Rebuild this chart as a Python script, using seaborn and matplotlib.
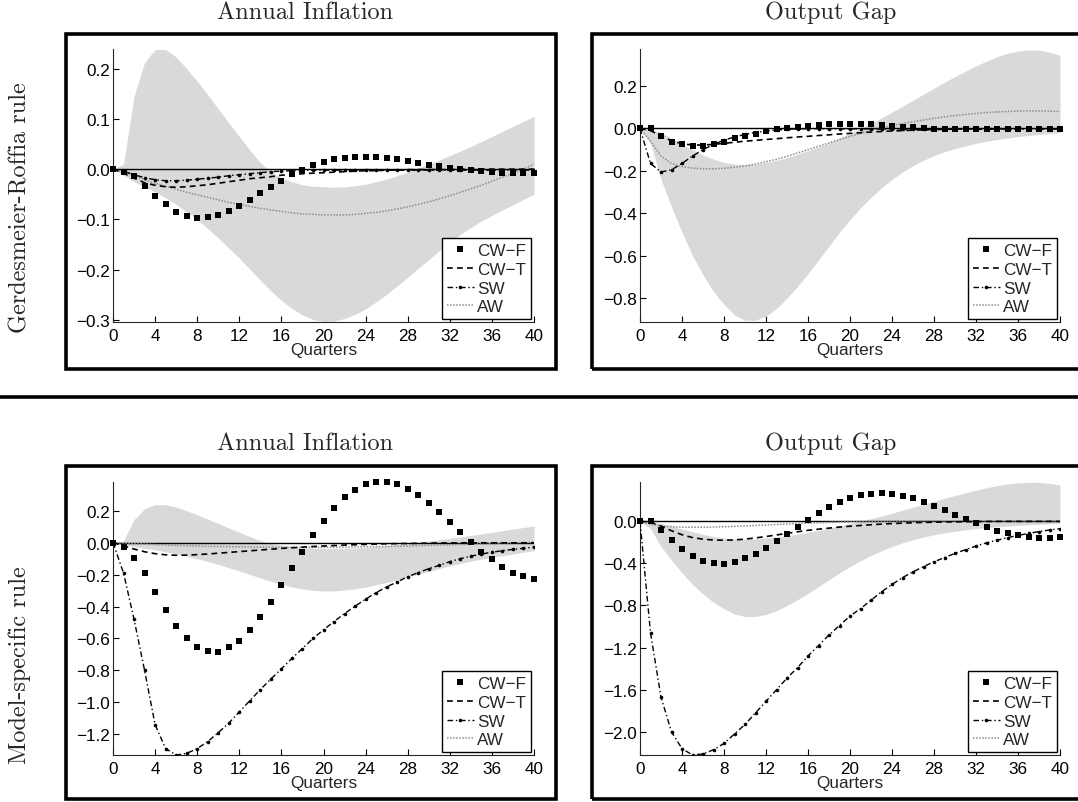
import numpy as np
import matplotlib
matplotlib.use("Agg")
import matplotlib.pyplot as plt
from matplotlib.lines import Line2D
from matplotlib.patches import Rectangle
import seaborn as sns

# ---------------- data ----------------
quarters = list(range(41))

band_infl_hi = [0.0, 0.01, 0.145, 0.212, 0.238, 0.238, 0.223, 0.2, 0.175, 0.148, 0.12, 0.092,
                0.065, 0.038, 0.013, -0.005, -0.017, -0.025, -0.031, -0.034, -0.035, -0.036,
                -0.035, -0.033, -0.03, -0.025, -0.02, -0.013, -0.006, 0.002, 0.01, 0.018, 0.027,
                0.036, 0.045, 0.055, 0.065, 0.075, 0.085, 0.095, 0.105]
band_infl_lo = [0.0, -0.012, -0.025, -0.035, -0.045, -0.057, -0.07, -0.085, -0.1, -0.118, -0.137,
                -0.157, -0.177, -0.199, -0.221, -0.242, -0.261, -0.277, -0.29, -0.299, -0.303,
                -0.302, -0.297, -0.289, -0.278, -0.264, -0.249, -0.232, -0.215, -0.197, -0.18,
                -0.162, -0.145, -0.13, -0.116, -0.103, -0.092, -0.081, -0.071, -0.06, -0.05]
band_gap_hi = [0.0, -0.005, -0.02, -0.045, -0.075, -0.1, -0.125, -0.145, -0.16, -0.168, -0.17,
               -0.168, -0.16, -0.15, -0.137, -0.122, -0.105, -0.087, -0.067, -0.045, -0.022, 0.0,
               0.025, 0.05, 0.077, 0.105, 0.133, 0.162, 0.19, 0.218, 0.245, 0.27, 0.295, 0.318,
               0.338, 0.355, 0.365, 0.37, 0.37, 0.36, 0.345]
band_gap_lo = [0.0, -0.07, -0.24, -0.37, -0.49, -0.6, -0.69, -0.77, -0.83, -0.88, -0.905, -0.905,
               -0.885, -0.85, -0.8, -0.745, -0.685, -0.62, -0.555, -0.49, -0.43, -0.375, -0.325,
               -0.28, -0.24, -0.205, -0.175, -0.15, -0.128, -0.11, -0.095, -0.082, -0.07, -0.06,
               -0.052, -0.045, -0.038, -0.033, -0.028, -0.024, -0.02]

# Gerdesmeier-Roffia rule, annual inflation
gr_infl_cwf = [0.0, -0.005, -0.013, -0.033, -0.053, -0.07, -0.085, -0.093, -0.097, -0.096, -0.091,
               -0.083, -0.073, -0.061, -0.048, -0.035, -0.023, -0.01, -0.001, 0.008, 0.015, 0.021,
               0.023, 0.025, 0.025, 0.024, 0.023, 0.02, 0.017, 0.013, 0.009, 0.006, 0.003, 0.0,
               -0.002, -0.004, -0.005, -0.007, -0.008, -0.008, -0.008]
gr_infl_cwt = [0.0, -0.008, -0.018, -0.027, -0.032, -0.035, -0.036, -0.035, -0.033, -0.031, -0.028,
               -0.025, -0.022, -0.019, -0.017, -0.015, -0.012, -0.011, -0.009, -0.008, -0.007,
               -0.006, -0.005, -0.004, -0.003, -0.003, -0.002, -0.002, -0.001, -0.001, -0.001,
               -0.001, -0.001, 0.0, 0.0, 0.0, 0.0, 0.0, 0.0, 0.0, 0.0]
gr_infl_sw = [0.0, -0.004, -0.011, -0.017, -0.021, -0.023, -0.023, -0.022, -0.02, -0.018, -0.016,
              -0.013, -0.011, -0.009, -0.007, -0.005, -0.004, -0.003, -0.002, -0.002, -0.002,
              -0.002, -0.002, -0.002, -0.002, -0.002, -0.002, -0.002, -0.002, -0.002, -0.002,
              -0.002, -0.002, -0.002, -0.002, -0.002, -0.002, -0.002, -0.002, -0.002, -0.002]
gr_infl_aw = [0.0, -0.006, -0.013, -0.021, -0.028, -0.034, -0.04, -0.046, -0.051, -0.056, -0.061,
              -0.066, -0.07, -0.074, -0.078, -0.081, -0.084, -0.087, -0.089, -0.09, -0.091, -0.091,
              -0.091, -0.09, -0.088, -0.086, -0.083, -0.079, -0.075, -0.07, -0.065, -0.059, -0.053,
              -0.046, -0.039, -0.032, -0.024, -0.016, -0.008, 0.0, 0.01]

# Gerdesmeier-Roffia rule, output gap
gr_gap_cwf = [0.0, 0.0, -0.035, -0.063, -0.074, -0.082, -0.082, -0.074, -0.063, -0.047, -0.035,
              -0.024, -0.011, -0.003, 0.003, 0.008, 0.013, 0.017, 0.02, 0.022, 0.022, 0.022, 0.02,
              0.017, 0.013, 0.009, 0.005, 0.002, -0.001, -0.002, -0.002, -0.002, -0.002, -0.002,
              -0.002, -0.002, -0.002, -0.002, -0.002, -0.002, -0.002]
gr_gap_cwt = [0.0, -0.01, -0.035, -0.058, -0.072, -0.078, -0.078, -0.075, -0.07, -0.065, -0.06,
              -0.056, -0.052, -0.048, -0.044, -0.04, -0.037, -0.033, -0.03, -0.026, -0.023, -0.02,
              -0.017, -0.014, -0.012, -0.01, -0.008, -0.006, -0.005, -0.004, -0.003, -0.002,
              -0.002, -0.001, -0.001, -0.001, 0.0, 0.0, 0.0, 0.0, 0.0]
gr_gap_sw = [0.0, -0.165, -0.205, -0.195, -0.165, -0.13, -0.1, -0.075, -0.055, -0.04, -0.028,
             -0.019, -0.012, -0.007, -0.004, -0.002, -0.001, -0.001, -0.001, -0.002, -0.002,
             -0.002, -0.002, -0.003, -0.003, -0.003, -0.003, -0.003, -0.003, -0.003, -0.003,
             -0.003, -0.003, -0.003, -0.003, -0.003, -0.003, -0.003, -0.003, -0.003, -0.003]
gr_gap_aw = [0.0, -0.06, -0.13, -0.165, -0.18, -0.187, -0.19, -0.19, -0.188, -0.183, -0.177,
             -0.168, -0.157, -0.145, -0.131, -0.116, -0.1, -0.084, -0.068, -0.052, -0.037, -0.023,
             -0.01, 0.002, 0.013, 0.023, 0.032, 0.04, 0.048, 0.055, 0.061, 0.066, 0.071, 0.075,
             0.078, 0.08, 0.082, 0.083, 0.083, 0.082, 0.08]

# Model-specific rule, annual inflation
ms_infl_cwf = [0.0, -0.03, -0.094, -0.19, -0.31, -0.42, -0.52, -0.6, -0.652, -0.681, -0.683,
               -0.656, -0.613, -0.548, -0.465, -0.371, -0.267, -0.16, -0.056, 0.046, 0.138, 0.217,
               0.283, 0.333, 0.369, 0.383, 0.383, 0.369, 0.338, 0.298, 0.248, 0.19, 0.127, 0.065,
               0.004, -0.056, -0.104, -0.15, -0.188, -0.208, -0.225]
ms_infl_cwt = [0.0, -0.02, -0.04, -0.057, -0.069, -0.076, -0.079, -0.078, -0.075, -0.071, -0.066,
               -0.061, -0.056, -0.051, -0.046, -0.041, -0.036, -0.032, -0.028, -0.024, -0.021,
               -0.018, -0.015, -0.013, -0.011, -0.009, -0.007, -0.006, -0.005, -0.004, -0.003,
               -0.002, -0.002, -0.001, -0.001, -0.001, -0.001, -0.001, -0.001, -0.001, -0.001]
ms_infl_sw = [0.0, -0.19, -0.48, -0.8, -1.14, -1.29, -1.33, -1.32, -1.29, -1.246, -1.19, -1.13,
              -1.06, -0.99, -0.92, -0.854, -0.79, -0.725, -0.663, -0.6, -0.546, -0.494, -0.444,
              -0.398, -0.354, -0.313, -0.277, -0.246, -0.213, -0.188, -0.163, -0.142, -0.119,
              -0.1, -0.085, -0.071, -0.06, -0.05, -0.042, -0.035, -0.028]
ms_infl_aw = [0.0, -0.003, -0.006, -0.009, -0.012, -0.015, -0.017, -0.019, -0.021, -0.023, -0.024,
              -0.025, -0.026, -0.027, -0.028, -0.028, -0.029, -0.029, -0.029, -0.029, -0.029,
              -0.028, -0.028, -0.027, -0.026, -0.025, -0.024, -0.022, -0.021, -0.019, -0.017,
              -0.015, -0.013, -0.011, -0.009, -0.007, -0.005, -0.003, -0.001, 0.001, 0.003]

# Model-specific rule, output gap
ms_gap_cwf = [0.0, 0.0, -0.085, -0.18, -0.266, -0.332, -0.376, -0.398, -0.402, -0.383, -0.351,
              -0.307, -0.253, -0.187, -0.12, -0.05, 0.016, 0.082, 0.136, 0.183, 0.221, 0.247,
              0.262, 0.266, 0.259, 0.243, 0.218, 0.187, 0.149, 0.104, 0.063, 0.019, -0.019,
              -0.057, -0.092, -0.114, -0.133, -0.145, -0.155, -0.155, -0.152]
ms_gap_cwt = [0.0, -0.01, -0.045, -0.09, -0.128, -0.155, -0.17, -0.178, -0.18, -0.177, -0.17,
              -0.158, -0.145, -0.13, -0.115, -0.1, -0.086, -0.075, -0.065, -0.055, -0.047,
              -0.04, -0.033, -0.027, -0.022, -0.018, -0.014, -0.011, -0.009, -0.007, -0.005,
              -0.004, -0.003, -0.002, -0.001, -0.001, -0.001, -0.001, -0.001, -0.001, -0.001]
ms_gap_sw = [0.0, -1.06, -1.67, -2.0, -2.16, -2.22, -2.21, -2.17, -2.11, -2.02, -1.93, -1.82,
             -1.71, -1.6, -1.49, -1.39, -1.28, -1.18, -1.08, -0.99, -0.9, -0.83, -0.75, -0.67,
             -0.6, -0.535, -0.48, -0.43, -0.385, -0.345, -0.305, -0.27, -0.235, -0.205, -0.18,
             -0.155, -0.135, -0.115, -0.098, -0.083, -0.07]
ms_gap_aw = [0.0, -0.03, -0.045, -0.052, -0.056, -0.057, -0.057, -0.055, -0.052, -0.048, -0.044,
             -0.04, -0.035, -0.031, -0.026, -0.022, -0.018, -0.014, -0.011, -0.008, -0.005,
             -0.003, -0.001, 0.0, 0.001, 0.001, 0.002, 0.002, 0.003, 0.003, 0.003, 0.003, 0.004,
             0.004, 0.004, 0.004, 0.004, 0.004, 0.004, 0.004, 0.004]

col_titles = ["Annual Inflation", "Output Gap"]
row_titles = ["Gerdesmeier-Roffia rule", "Model-specific rule"]
legend_labels = ["CW\u2212F", "CW\u2212T", "SW", "AW"]
x_ticks = [0, 4, 8, 12, 16, 20, 24, 28, 32, 36, 40]
y_ticks_gr_infl = [-0.3, -0.2, -0.1, 0.0, 0.1, 0.2]
y_ticks_gr_gap = [-0.8, -0.6, -0.4, -0.2, 0.0, 0.2]
y_ticks_ms_infl = [-1.2, -1.0, -0.8, -0.6, -0.4, -0.2, 0.0, 0.2]
y_ticks_ms_gap = [-2.0, -1.6, -1.2, -0.8, -0.4, 0.0]

# ---------------- style ----------------
sns.set_theme(style="ticks")
plt.rcParams["font.family"] = ["Liberation Sans", "DejaVu Sans"]
plt.rcParams["axes.linewidth"] = 0.8

W, H = 1078, 803
fig = plt.figure(figsize=(W / 100, H / 100), dpi=100)

band_color = "#d9d9d9"
aw_color = "#8c8c8c"
tick_fs = 12.3


def px_axes(x0, y0, x1, y1):
    return fig.add_axes([x0 / W, 1 - y1 / H, (x1 - x0) / W, (y1 - y0) / H])


def px_box(x0, y0, x1, y1):
    fig.patches.append(Rectangle((x0 / W, 1 - y1 / H), (x1 - x0) / W, (y1 - y0) / H,
                                 transform=fig.transFigure, fill=False, lw=2.6,
                                 edgecolor="black", zorder=0))


panels = [
    dict(ax=(113, 50, 534, 323), box=(66, 35, 556, 370), band=(band_infl_lo, band_infl_hi),
         series=(gr_infl_cwf, gr_infl_cwt, gr_infl_sw, gr_infl_aw), ylim=(-0.304, 0.239),
         yticks=y_ticks_gr_infl),
    dict(ax=(640, 50, 1060, 323), box=(592, 35, 1086, 370), band=(band_gap_lo, band_gap_hi),
         series=(gr_gap_cwf, gr_gap_cwt, gr_gap_sw, gr_gap_aw), ylim=(-0.913, 0.375),
         yticks=y_ticks_gr_gap),
    dict(ax=(113, 483, 534, 756), box=(66, 467, 556, 800), band=(band_infl_lo, band_infl_hi),
         series=(ms_infl_cwf, ms_infl_cwt, ms_infl_sw, ms_infl_aw), ylim=(-1.33, 0.38),
         yticks=y_ticks_ms_infl),
    dict(ax=(640, 483, 1060, 756), box=(592, 467, 1086, 800), band=(band_gap_lo, band_gap_hi),
         series=(ms_gap_cwf, ms_gap_cwt, ms_gap_sw, ms_gap_aw), ylim=(-2.22, 0.373),
         yticks=y_ticks_ms_gap),
]

for p in panels:
    px_box(*p["box"])
    ax = px_axes(*p["ax"])
    lo, hi = p["band"]
    cwf, cwt, sw, aw = p["series"]
    ax.fill_between(quarters, lo, hi, color=band_color, lw=0, zorder=1)
    ax.axhline(0, color="black", lw=1.0, zorder=2)
    sns.lineplot(x=quarters, y=aw, ax=ax, color=aw_color, lw=1.1, linestyle=(0, (1, 1)),
                 zorder=3)
    sns.lineplot(x=quarters, y=cwt, ax=ax, color="black", lw=1.2, linestyle=(0, (3.5, 2.5)),
                 zorder=4)
    sns.lineplot(x=quarters, y=sw, ax=ax, color="black", lw=1.0, linestyle=(0, (4, 2, 1, 2)),
                 marker="o", markersize=2.6, markeredgewidth=0, zorder=5)
    sns.lineplot(x=quarters, y=cwf, ax=ax, color="black", linestyle="", marker="s",
                 markersize=4.3, markeredgewidth=0, zorder=6, clip_on=False)
    ax.set_xlim(0, 40)
    ax.set_ylim(*p["ylim"])
    ax.set_xticks(x_ticks)
    ax.set_yticks(p["yticks"])
    ax.set_yticklabels([f"{v:.1f}".replace("-", "\u2212") for v in p["yticks"]])
    ax.tick_params(direction="in", length=4, width=0.8, labelsize=tick_fs, pad=2,
                   colors="black")
    ax.tick_params(axis="x", pad=4)
    sns.despine(ax=ax)
    ax.set_facecolor("none")
    ax.set_xlabel("Quarters", fontsize=tick_fs, labelpad=-0.5)
    ax.set_ylabel("")

    handles = [
        Line2D([], [], color="black", linestyle="", marker="s", markersize=4.3,
               markeredgewidth=0),
        Line2D([], [], color="black", lw=1.2, linestyle=(0, (3.5, 2.5))),
        Line2D([], [], color="black", lw=1.0, linestyle=(0, (4, 2, 1, 2)), marker="o",
               markersize=2.6, markeredgewidth=0),
        Line2D([], [], color=aw_color, lw=1.1, linestyle=(0, (1, 1))),
    ]
    leg = ax.legend(handles, legend_labels, loc="lower right", fontsize=tick_fs,
                    frameon=True, fancybox=False, edgecolor="black", framealpha=1,
                    borderpad=0.3, labelspacing=0.22, handlelength=1.6,
                    handletextpad=0.2, borderaxespad=0.15, numpoints=1)
    leg.get_frame().set_linewidth(1.0)
    leg.set_zorder(10)

# column titles
for row_y in (13, 444):
    for cx, t in zip((305, 831), col_titles):
        fig.text(cx / W, 1 - row_y / H, t, ha="center", va="center",
                 fontsize=17.5, family="cmr10")

# row titles
for cy, t in zip((208, 665), row_titles):
    fig.text(20 / W, 1 - cy / H, t, ha="center", va="center", rotation=90,
             fontsize=17.5, family="cmr10")

# separator line
fig.add_artist(Line2D([0, 1], [1 - 398 / H, 1 - 398 / H], transform=fig.transFigure,
                      color="black", lw=2.6))

fig.savefig("out.png", dpi=100)
